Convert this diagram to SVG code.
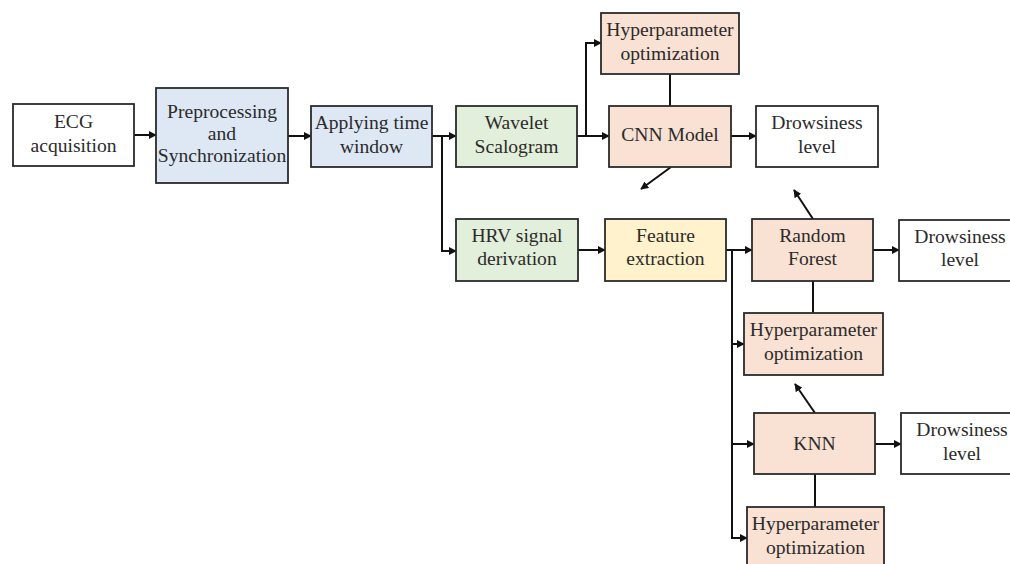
<svg xmlns="http://www.w3.org/2000/svg" width="1010" height="564" viewBox="0 0 1010 564">
<style>
.box{stroke:#2b2b2b;stroke-width:1.8}
.w{fill:#ffffff}.b{fill:#dee8f4}.g{fill:#e2efda}.p{fill:#f9e1d3}.y{fill:#fff2cc}
text{font-family:"Liberation Serif","Times New Roman",serif;font-size:19.6px;fill:#2b2b2b;text-anchor:middle}
.c{fill:none;stroke:#111;stroke-width:2}
</style>
<defs>
<marker id="a" viewBox="0 0 10 10" refX="9" refY="5" markerWidth="4" markerHeight="4" orient="auto" markerUnits="strokeWidth">
<path d="M0,0 L10,5 L0,10 z" fill="#111"/>
</marker>
</defs>
<g id="connectors">
<path class="c" d="M134,135 H156" marker-end="url(#a)"/>
<path class="c" d="M288,136 H311" marker-end="url(#a)"/>
<path class="c" d="M432,136 H456" marker-end="url(#a)"/>
<path class="c" d="M442,136 V251 H456" marker-end="url(#a)"/>
<path class="c" d="M577,136 H609" marker-end="url(#a)"/>
<path class="c" d="M586,136 V43 H601" marker-end="url(#a)"/>
<path class="c" d="M670,74 V106"/>
<path class="c" d="M731,136 H756" marker-end="url(#a)"/>
<path class="c" d="M671,167 L641,189" marker-end="url(#a)"/>
<path class="c" d="M578,250 H605" marker-end="url(#a)"/>
<path class="c" d="M726,250 H752" marker-end="url(#a)"/>
<path class="c" d="M732,250 V538 H747" marker-end="url(#a)"/>
<path class="c" d="M732,344 H744" marker-end="url(#a)"/>
<path class="c" d="M732,444 H754" marker-end="url(#a)"/>
<path class="c" d="M873,250 H899" marker-end="url(#a)"/>
<path class="c" d="M813,219 L794,190" marker-end="url(#a)"/>
<path class="c" d="M813,281 V313"/>
<path class="c" d="M815,413 L795,384" marker-end="url(#a)"/>
<path class="c" d="M875,444 H901" marker-end="url(#a)"/>
<path class="c" d="M815,474 V507"/>
</g>
<g id="ecg"><rect class="box w" x="13" y="104" width="121" height="62"/><text x="73.5" y="128">ECG</text><text x="73.5" y="152">acquisition</text></g>
<g id="preprocessing"><rect class="box b" x="156" y="88" width="132" height="95"/><text x="222" y="118">Preprocessing</text><text x="222" y="140">and</text><text x="222" y="162">Synchronization</text></g>
<g id="timewindow"><rect class="box b" x="311" y="106" width="121" height="61"/><text x="371.5" y="129">Applying time</text><text x="371.5" y="153">window</text></g>
<g id="wavelet"><rect class="box g" x="456" y="106" width="121" height="61"/><text x="516.5" y="129">Wavelet</text><text x="516.5" y="153">Scalogram</text></g>
<g id="hyper1"><rect class="box p" x="601" y="13" width="138" height="61"/><text x="670" y="36">Hyperparameter</text><text x="670" y="60">optimization</text></g>
<g id="cnn"><rect class="box p" x="609" y="106" width="122" height="61"/><text x="670" y="141">CNN Model</text></g>
<g id="drowsy1"><rect class="box w" x="756" y="106" width="122" height="61"/><text x="817" y="129">Drowsiness</text><text x="817" y="153">level</text></g>
<g id="hrv"><rect class="box g" x="456" y="219" width="122" height="62"/><text x="517" y="242">HRV signal</text><text x="517" y="265">derivation</text></g>
<g id="feature"><rect class="box y" x="605" y="219" width="121" height="62"/><text x="665.5" y="242">Feature</text><text x="665.5" y="265">extraction</text></g>
<g id="rf"><rect class="box p" x="752" y="219" width="121" height="62"/><text x="812.5" y="242">Random</text><text x="812.5" y="265">Forest</text></g>
<g id="drowsy2"><rect class="box w" x="899" y="220" width="120" height="61"/><text x="960" y="243">Drowsiness</text><text x="960" y="266">level</text></g>
<g id="hyper2"><rect class="box p" x="744" y="313" width="139" height="62"/><text x="813.5" y="336">Hyperparameter</text><text x="813.5" y="360">optimization</text></g>
<g id="knn"><rect class="box p" x="754" y="413" width="121" height="61"/><text x="814.5" y="450">KNN</text></g>
<g id="drowsy3"><rect class="box w" x="901" y="413" width="120" height="61"/><text x="962" y="436">Drowsiness</text><text x="962" y="460">level</text></g>
<g id="hyper3"><rect class="box p" x="747" y="507" width="137" height="70"/><text x="815.5" y="530">Hyperparameter</text><text x="815.5" y="554">optimization</text></g>
</svg>
